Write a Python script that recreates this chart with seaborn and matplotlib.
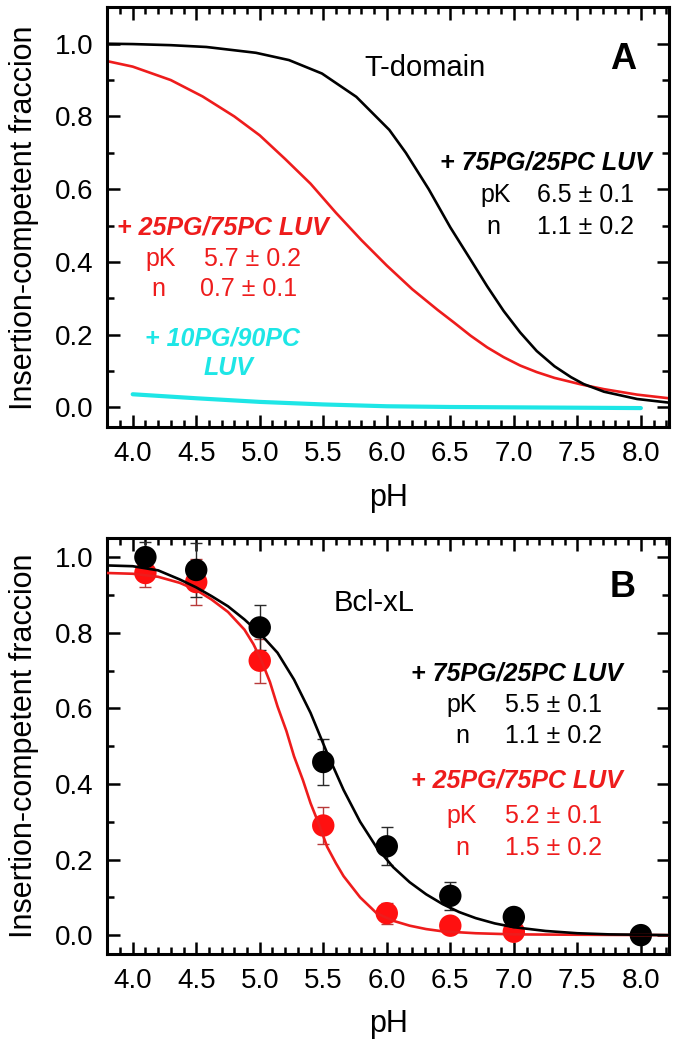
import numpy as np
import pandas as pd
import matplotlib
matplotlib.use("Agg")
import matplotlib.pyplot as plt
import seaborn as sns
from matplotlib.ticker import MultipleLocator, FormatStrFormatter

# --- Panel A: T-domain fitted curves ---
ph_a_black = [3.8, 4.0, 4.3, 4.58, 4.97, 5.23, 5.49, 5.76, 6.02, 6.15, 6.33, 6.5, 6.66, 6.79, 6.92, 7.05,
              7.18, 7.32, 7.45, 7.55, 7.71, 7.97, 8.22]
frac_a_black = [1.0, 0.999, 0.996, 0.991, 0.975, 0.955, 0.918, 0.854, 0.763, 0.70, 0.60, 0.495, 0.406, 0.333, 0.265, 0.206,
                0.155, 0.113, 0.083, 0.064, 0.043, 0.023, 0.013]

ph_a_red = [3.8, 4.0, 4.3, 4.55, 4.8, 5.0, 5.2, 5.4, 5.6, 5.8, 6.0, 6.2, 6.4, 6.53, 6.66, 6.79, 6.92, 7.05,
            7.18, 7.32, 7.53, 7.71, 7.97, 8.22]
frac_a_red = [0.952, 0.937, 0.90, 0.855, 0.80, 0.748, 0.683, 0.615, 0.535, 0.46, 0.39, 0.325, 0.268, 0.233, 0.197, 0.165,
              0.138, 0.115, 0.097, 0.081, 0.063, 0.05, 0.035, 0.025]

ph_a_cyan = [4.0, 4.5, 5.0, 5.5, 6.0, 6.5, 7.0, 7.5, 8.0]
frac_a_cyan = [0.036, 0.025, 0.015, 0.008, 0.003, 0.001, 0.0, -0.001, -0.002]

# --- Panel B: Bcl-xL data points and fits ---
ph_b_pts = [4.1, 4.5, 5.0, 5.5, 6.0, 6.5, 7.0, 8.0]
frac_b_black = [1.0, 0.966, 0.814, 0.458, 0.235, 0.104, 0.048, 0.0]
err_b_black = [0.04, 0.072, 0.06, 0.06, 0.05, 0.037, 0.025, 0.0]
ph_b_red_pts = [4.1, 4.5, 5.0, 5.5, 6.0, 6.5, 7.0]
frac_b_red = [0.958, 0.934, 0.726, 0.29, 0.058, 0.025, 0.009]
err_b_red = [0.038, 0.06, 0.058, 0.05, 0.028, 0.01, 0.008]

ph_b_black_fit = [3.8, 4.0, 4.2, 4.37, 4.5, 4.62, 4.75, 4.88, 5.01, 5.14, 5.27, 5.4, 5.53, 5.66, 5.79, 5.92, 6.05,
                  6.18, 6.31, 6.44, 6.57, 6.7, 6.85, 7.0, 7.25, 7.5, 7.75, 8.0, 8.22]
fit_b_black = [0.978, 0.976, 0.965, 0.941, 0.92, 0.897, 0.87, 0.835, 0.795, 0.747, 0.676, 0.588, 0.482, 0.384, 0.30,
               0.232, 0.18, 0.14, 0.108, 0.082, 0.061, 0.045, 0.031, 0.021, 0.011, 0.005, 0.002, 0.001, 0.0]
ph_b_red_fit = [3.8, 4.0, 4.2, 4.37, 4.5, 4.62, 4.75, 4.88, 4.95, 5.01, 5.08, 5.14, 5.21, 5.27, 5.34, 5.4, 5.47, 5.53,
                5.6, 5.66, 5.79, 5.92, 6.05, 6.18, 6.31, 6.44, 6.7, 7.0, 7.5, 8.22]
fit_b_red = [0.958, 0.956, 0.948, 0.932, 0.913, 0.888, 0.855, 0.808, 0.77, 0.729, 0.67, 0.605, 0.54, 0.473, 0.41, 0.349,
             0.29, 0.234, 0.19, 0.156, 0.1, 0.058, 0.038, 0.025, 0.016, 0.01, 0.005, 0.002, 0.001, 0.0]

xticks = [4.0, 4.5, 5.0, 5.5, 6.0, 6.5, 7.0, 7.5, 8.0]
ylabel = "Insertion-competent fraccion"

RED = "#ee1c1c"
CYAN = "#1ee6e6"

sns.set_style("ticks")
plt.rcParams["font.family"] = ["Liberation Sans", "DejaVu Sans"]
plt.rcParams["text.color"] = "black"
plt.rcParams["axes.labelcolor"] = "black"
plt.rcParams["xtick.color"] = "black"
plt.rcParams["ytick.color"] = "black"

fig = plt.figure(figsize=(6.79, 10.5), dpi=100)
ax_a = fig.add_axes([0.158, 0.593, 0.827, 0.400])
ax_b = fig.add_axes([0.158, 0.0914, 0.827, 0.396])


def style_axis(ax, ylim):
    ax.set_xlim(3.8, 8.22)
    ax.set_ylim(*ylim)
    ax.set_xticks(xticks)
    ax.xaxis.set_major_formatter(FormatStrFormatter("%.1f"))
    ax.xaxis.set_minor_locator(MultipleLocator(0.1))
    ax.yaxis.set_major_locator(MultipleLocator(0.2))
    ax.yaxis.set_major_formatter(FormatStrFormatter("%.1f"))
    ax.yaxis.set_minor_locator(MultipleLocator(0.1))
    ax.tick_params(which="both", direction="in", top=True, right=True,
                   width=1.8, colors="black", labelsize=20, pad=10)
    ax.tick_params(which="major", length=9)
    ax.tick_params(which="minor", length=5)
    for s in ax.spines.values():
        s.set_linewidth(2.2)
        s.set_color("black")
    ax.set_xlabel("pH", fontsize=22, labelpad=11)
    ax.set_ylabel(ylabel, fontsize=22, labelpad=11)


# Panel A
df_black = pd.DataFrame({"pH": ph_a_black, "frac": frac_a_black})
df_red = pd.DataFrame({"pH": ph_a_red, "frac": frac_a_red})
df_cyan = pd.DataFrame({"pH": ph_a_cyan, "frac": frac_a_cyan})
sns.lineplot(data=df_cyan, x="pH", y="frac", color=CYAN, lw=3, ax=ax_a, sort=False)
sns.lineplot(data=df_red, x="pH", y="frac", color=RED, lw=1.9, ax=ax_a, sort=False)
sns.lineplot(data=df_black, x="pH", y="frac", color="black", lw=1.9, ax=ax_a, sort=False)
style_axis(ax_a, (-0.055, 1.1))

ax_a.text(6.30, 0.934, "T-domain", fontsize=21, ha="center", va="center")
ax_a.text(7.86, 0.957, "A", fontsize=26, fontweight="bold", ha="center", va="center")
ax_a.text(6.42, 0.674, "+ 75PG/25PC LUV", fontsize=18, fontweight="bold", style="italic", va="center")
ax_a.text(6.74, 0.584, "pK", fontsize=18, va="center")
ax_a.text(7.18, 0.584, "6.5 \u00b1 0.1", fontsize=18, va="center")
ax_a.text(6.78, 0.495, "n", fontsize=18, va="center")
ax_a.text(7.18, 0.495, "1.1 \u00b1 0.2", fontsize=18, va="center")
ax_a.text(3.88, 0.495, "+ 25PG/75PC LUV", fontsize=18, fontweight="bold", style="italic", color=RED, va="center")
ax_a.text(4.10, 0.409, "pK", fontsize=18, color=RED, va="center")
ax_a.text(4.56, 0.409, "5.7 \u00b1 0.2", fontsize=18, color=RED, va="center")
ax_a.text(4.15, 0.326, "n", fontsize=18, color=RED, va="center")
ax_a.text(4.53, 0.326, "0.7 \u00b1 0.1", fontsize=18, color=RED, va="center")
ax_a.text(4.10, 0.189, "+ 10PG/90PC", fontsize=18, fontweight="bold", style="italic", color=CYAN, va="center")
ax_a.text(4.56, 0.107, "LUV", fontsize=18, fontweight="bold", style="italic", color=CYAN, va="center")

# Panel B
ax_b.errorbar(ph_b_red_pts, frac_b_red, yerr=err_b_red, fmt="none",
              ecolor="#b83a3a", elinewidth=1.0, capsize=4.5, capthick=1.0, zorder=2)
ax_b.errorbar(ph_b_pts, frac_b_black, yerr=err_b_black, fmt="none",
              ecolor="#2a2a2a", elinewidth=1.0, capsize=4.5, capthick=1.0, zorder=2)
sns.scatterplot(x=ph_b_red_pts, y=frac_b_red, color="#ff1010", s=260,
                edgecolor="none", ax=ax_b, zorder=3)
sns.scatterplot(x=ph_b_pts, y=frac_b_black, color="black", s=260,
                edgecolor="none", ax=ax_b, zorder=4)
df_bfit_red = pd.DataFrame({"pH": ph_b_red_fit, "frac": fit_b_red})
df_bfit_black = pd.DataFrame({"pH": ph_b_black_fit, "frac": fit_b_black})
sns.lineplot(data=df_bfit_red, x="pH", y="frac", color=RED, lw=1.9, ax=ax_b, sort=False, zorder=5)
sns.lineplot(data=df_bfit_black, x="pH", y="frac", color="black", lw=1.9, ax=ax_b, sort=False, zorder=5)
style_axis(ax_b, (-0.05, 1.05))

ax_b.text(5.58, 0.879, "Bcl-xL", fontsize=21, va="center")
ax_b.text(7.86, 0.92, "B", fontsize=26, fontweight="bold", ha="center", va="center")
ax_b.text(6.19, 0.692, "+ 75PG/25PC LUV", fontsize=18, fontweight="bold", style="italic", va="center")
ax_b.text(6.47, 0.61, "pK", fontsize=18, va="center")
ax_b.text(6.93, 0.61, "5.5 \u00b1 0.1", fontsize=18, va="center")
ax_b.text(6.54, 0.527, "n", fontsize=18, va="center")
ax_b.text(6.93, 0.527, "1.1 \u00b1 0.2", fontsize=18, va="center")
ax_b.text(6.19, 0.41, "+ 25PG/75PC LUV", fontsize=18, fontweight="bold", style="italic", color=RED, va="center")
ax_b.text(6.47, 0.314, "pK", fontsize=18, color=RED, va="center")
ax_b.text(6.93, 0.314, "5.2 \u00b1 0.1", fontsize=18, color=RED, va="center")
ax_b.text(6.54, 0.23, "n", fontsize=18, color=RED, va="center")
ax_b.text(6.93, 0.23, "1.5 \u00b1 0.2", fontsize=18, color=RED, va="center")

fig.savefig("out.png", dpi=100)
plt.close(fig)
